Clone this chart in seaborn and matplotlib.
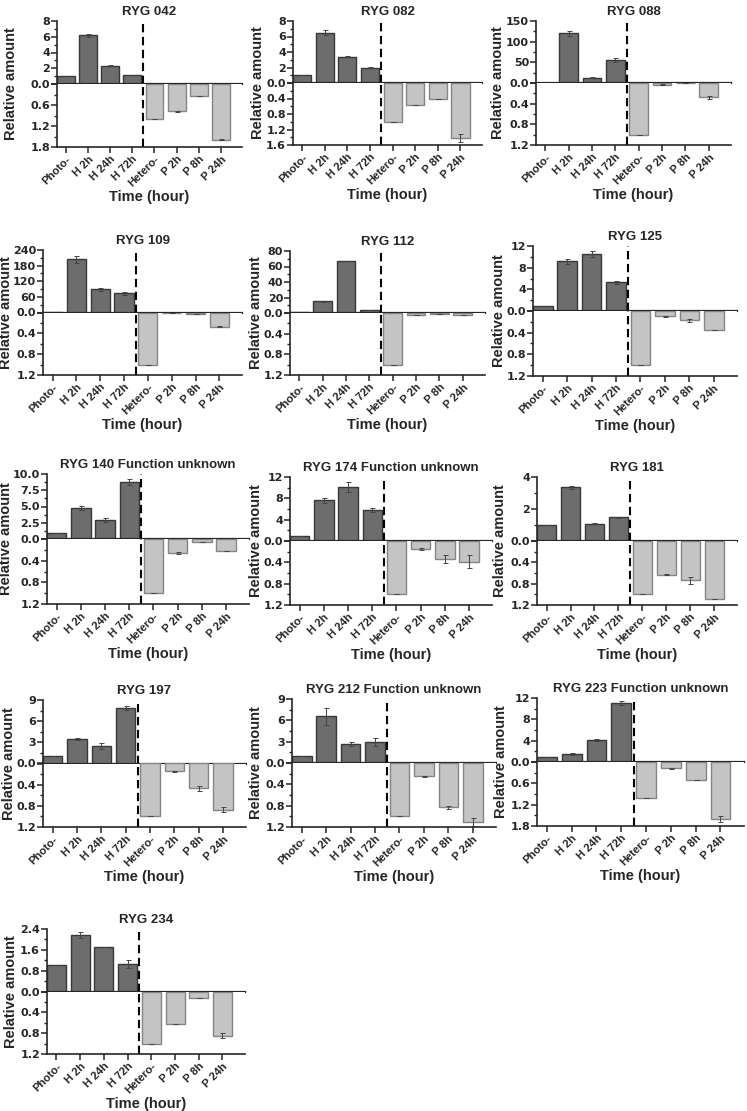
import matplotlib
matplotlib.use("Agg")
import numpy as np
import pandas as pd
import matplotlib.pyplot as plt
import seaborn as sns
from matplotlib.ticker import AutoMinorLocator

sns.set_style("ticks")
plt.rcParams['font.family'] = ['Liberation Sans', 'DejaVu Sans']
plt.rcParams['font.weight'] = 'bold'
plt.rcParams['axes.labelweight'] = 'bold'
plt.rcParams['axes.titleweight'] = 'bold'

hetero_cats = ["Photo-", "H 2h", "H 24h", "H 72h"]
photo_cats = ["Hetero-", "P 2h", "P 8h", "P 24h"]
all_cats = hetero_cats + photo_cats

titles = ["RYG 042", "RYG 082", "RYG 088", "RYG 109", "RYG 112", "RYG 125",
          "RYG 140 Function unknown", "RYG 174 Function unknown", "RYG 181",
          "RYG 197", "RYG 212 Function unknown", "RYG 223 Function unknown",
          "RYG 234"]

# heterotrophic shift (upper half)
h_values = [[1.0, 6.2, 2.3, 1.15], [1.0, 6.5, 3.4, 2.0], [1.0, 120, 13, 56],
            [1.0, 204, 89, 74], [1.0, 15, 67, 4.3], [1.0, 9.15, 10.5, 5.3],
            [1.0, 4.8, 2.9, 8.75], [1.0, 7.65, 10.1, 5.8], [1.0, 3.36, 1.08, 1.49],
            [1.0, 3.45, 2.5, 7.9], [1.0, 6.6, 2.7, 3.0], [1.0, 1.5, 4.1, 11.1],
            [1.0, 2.17, 1.7, 1.07]]
h_errors = [[0, 0.2, 0.05, 0.05], [0, 0.35, 0.1, 0.1], [0, 6, 1, 5],
            [0, 13, 7, 5], [0, 0.3, 0.5, 0.2], [0, 0.5, 0.6, 0.3],
            [0, 0.3, 0.3, 0.45], [0, 0.5, 1.0, 0.4], [0, 0.1, 0.03, 0.03],
            [0, 0.1, 0.45, 0.3], [0, 1.2, 0.3, 0.55], [0, 0.12, 0.12, 0.4],
            [0, 0.1, 0, 0.15]]

# photoautotrophic shift (lower half, drawn downward)
p_values = [[1.0, 0.78, 0.35, 1.59], [1.0, 0.56, 0.4, 1.42], [1.0, 0.03, 0.005, 0.28],
            [1.0, 0.005, 0.03, 0.27], [1.0, 0.03, 0.02, 0.03], [1.0, 0.1, 0.17, 0.36],
            [1.0, 0.26, 0.05, 0.22], [1.0, 0.15, 0.34, 0.39], [1.0, 0.63, 0.74, 1.09],
            [1.0, 0.15, 0.47, 0.87], [1.0, 0.25, 0.83, 1.11], [1.0, 0.18, 0.5, 1.61],
            [1.0, 0.62, 0.12, 0.85]]
p_errors = [[0, 0.01, 0, 0.01], [0, 0.005, 0, 0.1], [0, 0.005, 0, 0.03],
            [0, 0, 0.005, 0.01], [0, 0, 0, 0], [0, 0.005, 0.03, 0],
            [0, 0.015, 0, 0], [0, 0.015, 0.07, 0.12], [0, 0.01, 0.06, 0.005],
            [0, 0.01, 0.05, 0.05], [0, 0.005, 0.03, 0.07], [0, 0.005, 0, 0.08],
            [0, 0, 0, 0.05]]

upper_ticks = [[2, 4, 6, 8], [2, 4, 6, 8], [50, 100, 150], [60, 120, 180, 240],
               [20, 40, 60, 80], [4, 8, 12], [2.5, 5.0, 7.5, 10.0], [4, 8, 12],
               [2, 4], [3, 6, 9], [3, 6, 9], [4, 8, 12], [0.8, 1.6, 2.4]]
lower_ticks = [[0, 0.6, 1.2, 1.8], [0, 0.4, 0.8, 1.2, 1.6], [0, 0.4, 0.8, 1.2],
               [0, 0.4, 0.8, 1.2], [0, 0.4, 0.8, 1.2], [0, 0.4, 0.8, 1.2],
               [0, 0.4, 0.8, 1.2], [0, 0.4, 0.8, 1.2], [0, 0.4, 0.8, 1.2],
               [0, 0.4, 0.8, 1.2], [0, 0.4, 0.8, 1.2], [0, 0.6, 1.2, 1.8],
               [0, 0.4, 0.8, 1.2]]

W, H = 747, 1111
fig = plt.figure(figsize=(W / 100, H / 100), dpi=100)

# panel boxes in pixels: left, right, top, bottom, ylabel offset
boxes = [(57, 242, 21, 147, 39), (293, 482, 21, 145, 28), (536, 731, 21, 145, 31),
         (43, 242, 250, 375, 30), (290, 485, 251, 375, 27), (533, 737, 246, 376, 27),
         (47, 249, 474, 604, 34), (290, 492, 477, 605, 27), (537, 737, 477, 605, 30),
         (43, 246, 700, 827, 27), (292, 496, 699, 827, 29), (537, 744, 698, 826, 29),
         (47, 245, 929, 1054, 29)]

dark, dark_edge = "#6d6d6d", "#383838"
light, light_edge = "#c4c4c4", "#858585"
tick_font = dict(family="DejaVu Sans", weight="bold", size=8)

for i, title in enumerate(titles):
    x0, x1, y0, y1, yl_off = boxes[i]
    w = (x1 - x0) / W
    hh = (y1 - y0) / 2 / H
    ax_u = fig.add_axes([x0 / W, 1 - (y0 + (y1 - y0) / 2) / H, w, hh])
    ax_d = fig.add_axes([x0 / W, 1 - y1 / H, w, hh])

    du = pd.DataFrame({"cat": hetero_cats, "val": h_values[i]})
    dd = pd.DataFrame({"cat": photo_cats, "val": p_values[i]})
    sns.barplot(data=du, x="cat", y="val", order=all_cats, color=dark, saturation=1,
                edgecolor=dark_edge, linewidth=1, width=0.8, ax=ax_u)
    sns.barplot(data=dd, x="cat", y="val", order=all_cats, color=light, saturation=1,
                edgecolor=light_edge, linewidth=1, width=0.8, ax=ax_d)
    xu = [all_cats.index(k) for k in hetero_cats]
    xd = [all_cats.index(k) for k in photo_cats]
    ax_u.errorbar(xu, h_values[i], yerr=h_errors[i], fmt="none", ecolor="#444444",
                  elinewidth=0.7, capsize=1.8, capthick=0.7)
    ax_d.errorbar(xd, p_values[i], yerr=p_errors[i], fmt="none", ecolor="#444444",
                  elinewidth=0.7, capsize=1.8, capthick=0.7)

    for ax in (ax_u, ax_d):
        ax.set_xlim(-0.4, 7.95)
        ax.axvline(3.5, color="black", lw=1.5, ls=(0, (4, 2.2)))
        ax.set_xlabel("")
        ax.set_ylabel("")
        for s in ("top", "right"):
            ax.spines[s].set_visible(False)
        ax.spines["left"].set_linewidth(1.2)
        ax.yaxis.set_minor_locator(AutoMinorLocator(2))
        ax.tick_params(axis="y", which="major", direction="out", length=4, width=1.1, pad=1)
        ax.tick_params(axis="y", which="minor", direction="out", length=2, width=1)

    ut = upper_ticks[i]
    ax_u.set_ylim(0, ut[-1])
    ax_u.set_yticks([0] + ut)
    if all(float(v).is_integer() for v in ut):
        ax_u.set_yticklabels([""] + ["%d" % v for v in ut], fontdict=tick_font)
    else:
        ax_u.set_yticklabels([""] + ["%.1f" % v for v in ut], fontdict=tick_font)
    ax_u.set_xticks([])
    ax_u.spines["bottom"].set_linewidth(1.6)
    ax_u.set_title(title, fontsize=9.5, fontweight="bold", pad=4)
    ax_u.set_ylabel("Relative amount", fontsize=10.5, fontweight="bold")
    ax_u.yaxis.set_label_coords(-yl_off / (x1 - x0), 0.0)

    lt = lower_ticks[i]
    ax_d.set_ylim(lt[-1], 0)
    ax_d.set_yticks(lt)
    ax_d.set_yticklabels(["%.1f" % v for v in lt], fontdict=tick_font)
    ax_d.spines["top"].set_visible(False)
    ax_d.spines["bottom"].set_linewidth(1.2)
    ax_d.set_xticks(range(len(all_cats)))
    ax_d.set_xticklabels(all_cats, rotation=45, ha="right", rotation_mode="anchor",
                         fontsize=8, fontweight="bold")
    ax_d.tick_params(axis="x", direction="out", length=4, width=1.1, pad=1)
    ax_d.set_xlabel("Time (hour)", fontsize=10.5, fontweight="bold", labelpad=1)

fig.savefig("out.png", dpi=100)
